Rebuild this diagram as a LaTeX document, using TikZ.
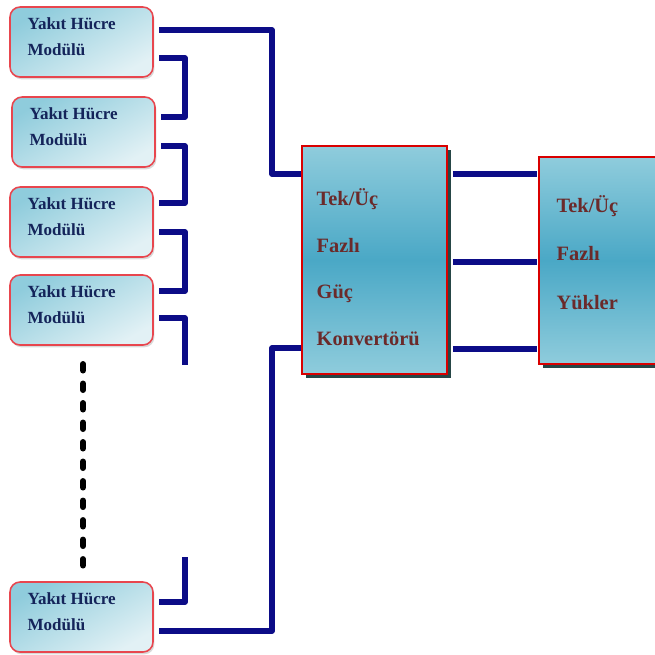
\documentclass[tikz,border=0pt]{standalone}
\usepackage{fontspec}
\setmainfont{Liberation Serif}
\usetikzlibrary{shadows}
\definecolor{busblue}{HTML}{0C0C87}
\definecolor{edgered}{HTML}{E8464E}
\definecolor{modink}{HTML}{14245A}
\definecolor{convink}{HTML}{6B2A2A}
\definecolor{fcpale}{HTML}{E2F1F5}
\definecolor{fcmid}{HTML}{8FCCDC}
\definecolor{fcdeep}{HTML}{4AA8C6}
\tikzset{
	module/.style={rectangle, rounded corners=0.2cm, draw=edgered, line width=0.9pt,
		minimum width=2.86cm, minimum height=1.4cm,
		top color=fcmid, bottom color=fcpale, shading angle=30,
		drop shadow={opacity=0.3, shadow xshift=0.8pt, shadow yshift=-1.3pt}},
	modlabel/.style={inner sep=0pt, anchor=west, align=left, text=modink,
		font=\bfseries\fontsize{9.7}{14.7}\selectfont},
	bigbox/.style={rectangle, draw=red!85!black, line width=0.8pt,
		top color=fcmid, bottom color=fcmid, middle color=fcdeep,
		drop shadow={fill=black!70!teal, opacity=0.85, shadow xshift=2.2pt, shadow yshift=-2.2pt}},
	biglabel/.style={inner sep=0pt, anchor=west, align=left, text=convink},
	bus/.style={draw=busblue, line width=3.2pt, line join=round},
	dots/.style={draw=black, line width=3.4pt, line cap=round, dash pattern=on 3.7pt off 7.4pt}
}
\begin{document}
\begin{tikzpicture}[x=0.02cm, y=-0.02cm]
		\useasboundingbox (0,0) rectangle (655,654);
		\clip (0,0) rectangle (655,654);

		\node[module] (m1) at (81.5,42) {};
		\node[module] (m2) at (83.5,132) {};
		\node[module] (m3) at (81.5,222) {};
		\node[module] (m4) at (81.5,310) {};
		\node[module] (m5) at (81.5,617) {};
		\node[modlabel] (m1txt) at ([xshift=0.36cm, yshift=0.11cm]m1.west) {Yakıt Hücre\\Modülü};
		\node[modlabel] (m2txt) at ([xshift=0.36cm, yshift=0.11cm]m2.west) {Yakıt Hücre\\Modülü};
		\node[modlabel] (m3txt) at ([xshift=0.36cm, yshift=0.11cm]m3.west) {Yakıt Hücre\\Modülü};
		\node[modlabel] (m4txt) at ([xshift=0.36cm, yshift=0.11cm]m4.west) {Yakıt Hücre\\Modülü};
		\node[modlabel] (m5txt) at ([xshift=0.36cm, yshift=0.11cm]m5.west) {Yakıt Hücre\\Modülü};

		\node[bigbox, minimum width=2.9cm, minimum height=4.56cm] (conv) at (374.5,260) {};
		\node[biglabel, font=\bfseries\fontsize{11.6}{26.6}\selectfont] (convtxt)
			at ([xshift=0.3cm, yshift=-0.14cm]conv.west) {Tek/Üç\\Fazlı\\Güç\\Konvertörü};
		\node[bigbox, minimum width=2.82cm, minimum height=4.14cm] (load) at (609.5,260.5) {};
		\node[biglabel, font=\bfseries\fontsize{11.6}{27.8}\selectfont] (loadtxt)
			at ([xshift=0.36cm, yshift=0.16cm]load.west) {Tek/Üç\\Fazlı\\Yükler};

		\coordinate (jb) at (185,0);
		\coordinate (jr) at (272,0);
		\coordinate (open1) at (185,365);
		\coordinate (open2) at (185,557);
		\coordinate (dottop) at (83,364);
		\coordinate (dotbot) at (83,570);

		\draw[bus, shorten <=3pt] (m1.east |- 0,30) -- (jr |- 0,30) -- (jr |- 0,174) -- (conv.west |- 0,174);
		\draw[bus, shorten <=3pt, shorten >=3pt] (m1.east |- 0,58) -- (jb |- 0,58) -- (jb |- 0,117) -- (m2.east |- 0,117);
		\draw[bus, shorten <=3pt, shorten >=3pt] (m2.east |- 0,146) -- (jb |- 0,146) -- (jb |- 0,203) -- (m3.east |- 0,203);
		\draw[bus, shorten <=3pt, shorten >=3pt] (m3.east |- 0,232) -- (jb |- 0,232) -- (jb |- 0,291) -- (m4.east |- 0,291);
		\draw[bus, shorten <=3pt] (m4.east |- 0,318) -- (jb |- 0,318) -- (open1);
		\draw[bus, shorten >=3pt] (open2) -- (jb |- 0,602) -- (m5.east |- 0,602);
		\draw[bus, shorten <=3pt] (m5.east |- 0,631) -- (jr |- 0,631) -- (jr |- 0,348) -- (conv.west |- 0,348);

		\draw[bus, shorten <=3pt, shorten >=1pt] (conv.east |- 0,174) -- (load.west |- 0,174);
		\draw[bus, shorten <=3pt, shorten >=1pt] (conv.east |- 0,262) -- (load.west |- 0,262);
		\draw[bus, shorten <=3pt, shorten >=1pt] (conv.east |- 0,349) -- (load.west |- 0,349);

		\draw[dots] (dottop) -- (dotbot);

	\end{tikzpicture}
\end{document}
